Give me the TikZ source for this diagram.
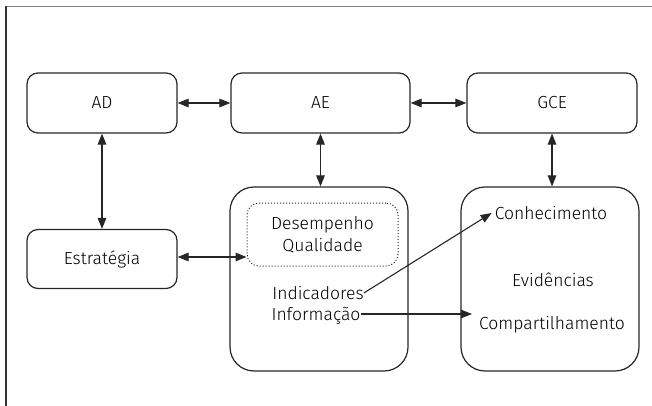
\documentclass[tikz,border=0pt]{standalone}
\usepackage{fontspec}
\setmainfont{Fira Sans Light}
\usetikzlibrary{arrows.meta}
\begin{document}
\begin{tikzpicture}[x=1pt,y=-1pt,
  font=\fontsize{17.5}{22}\selectfont,
  boxsmall/.style={draw=black!85,line width=1.2pt,rounded corners=11pt,
    minimum width=#1,minimum height=60pt,inner sep=0pt},
  boxbig/.style={draw=black!85,line width=1.2pt,rounded corners=24pt,
    minimum width=178pt,minimum height=184pt,inner sep=0pt},
  dotbox/.style={draw=black!85,line width=1pt,dotted,rounded corners=12pt,
    minimum width=151pt,minimum height=63pt,inner sep=0pt,align=center},
  label/.style={inner sep=0pt,text depth=0pt},
  link/.style={line width=1.1pt,draw=black!85,{Triangle[length=11pt,width=8.5pt]}-{Triangle[length=11pt,width=8.5pt]}},
  flow/.style={line width=1.1pt,draw=black!85,-{Triangle[length=11pt,width=8.5pt]}}]
\useasboundingbox (0,0) rectangle (652,406);

% frame lines
\draw[black!50,line width=1.6pt] (6,6.5) -- (652,6.5);
\draw[black!80,line width=1.4pt] (6,6) -- (6,406);

% top row
\node[boxsmall=150pt] (AD)  at (102,103) {AD};
\node[boxsmall=179pt] (AE)  at (320.5,103) {AE};
\node[boxsmall=170pt] (GCE) at (552,103) {GCE};

% left box
\node[boxsmall=150pt,minimum height=59pt] (Est) at (102,259) {Estratégia};

% large boxes
\node[boxbig] (Mid) at (319,279) {};
\node[boxbig] (Rgt) at (550,279) {};

% contents of the middle box
\node[dotbox] (Dot) at (322.5,234.5) {Desempenho\\Qualidade};
\node[label] (Ind) at (318,293) {Indicadores};
\node[label] (Inf) at (316,314) {Informação};

% contents of the right box
\node[label] (Con)  at (551,213) {Conhecimento};
\node[label] (Evi)  at (553,280) {Evidências};
\node[label] (Comp) at (552,323) {Compartilhamento};
\coordinate (InfTip) at ([xshift=-7pt]Comp.west |- Inf.east);

% connectors
\draw[link] (AD.east) -- (AE.west);
\draw[link] (AE.east) -- (GCE.west);
\draw[link] (AD.south) -- (Est.north);
\draw[link] (AE.south) -- (AE.south |- Mid.north);
\draw[link] (GCE.south) -- (GCE.south |- Rgt.north);
\draw[link] (Est.east |- 0,257) -- (Dot.west |- 0,257);
\draw[flow] (Ind.east) -- ([xshift=-3pt]Con.west);
\draw[flow] (Inf.east) -- (InfTip);
\end{tikzpicture}
\end{document}
